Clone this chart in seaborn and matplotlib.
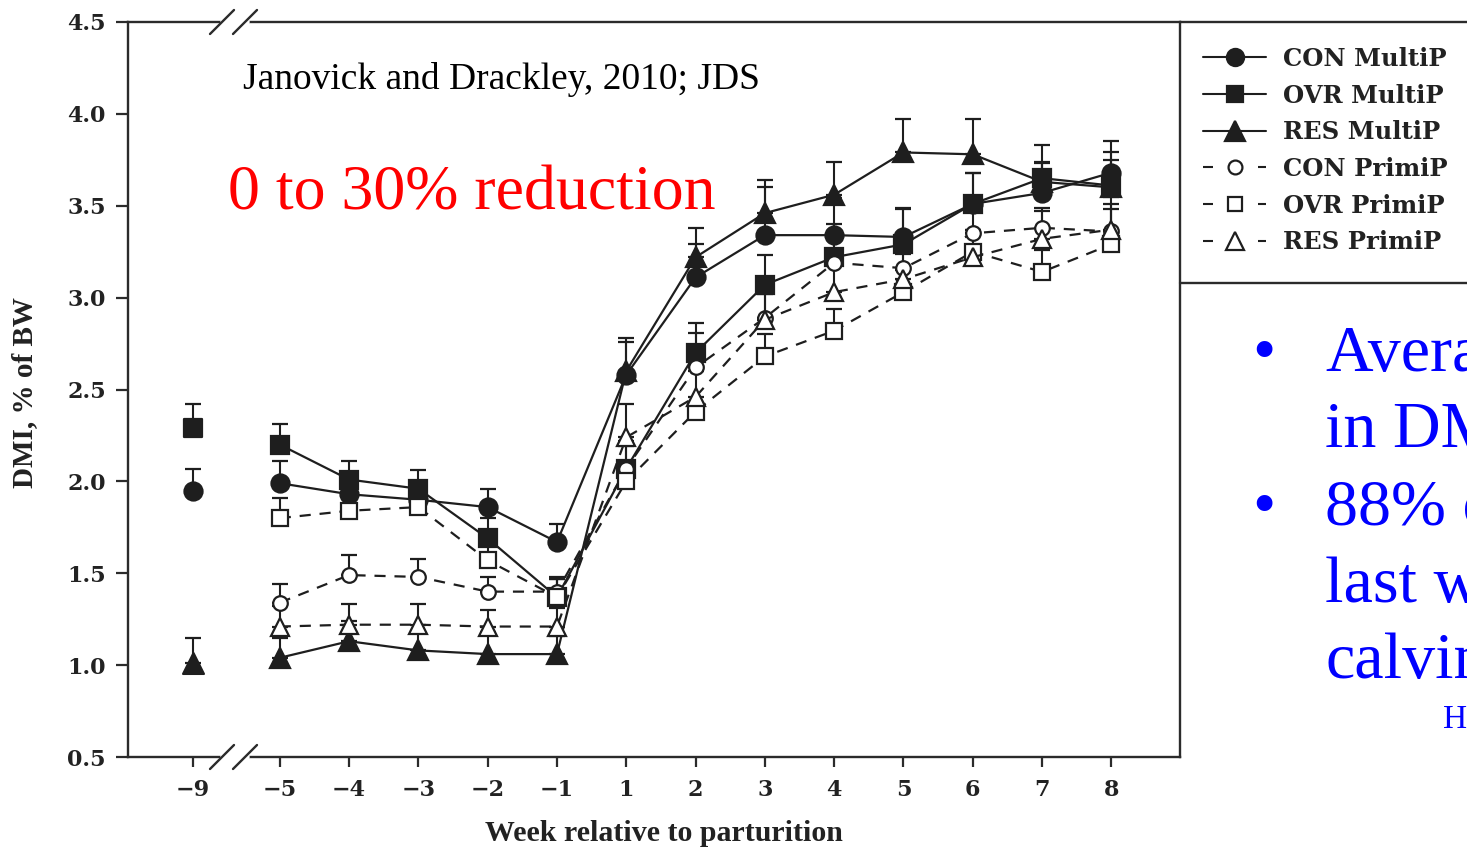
import numpy as np
import pandas as pd
import matplotlib
matplotlib.use("Agg")
import matplotlib.pyplot as plt
from matplotlib.lines import Line2D
import seaborn as sns

# ---------------- data ----------------
weeks = [-5, -4, -3, -2, -1, 1, 2, 3, 4, 5, 6, 7, 8]
pre_week = -9
week_tick_labels = ["\u22129", "\u22125", "\u22124", "\u22123", "\u22122", "\u22121",
                    "1", "2", "3", "4", "5", "6", "7", "8"]
y_ticks = [0.5, 1.0, 1.5, 2.0, 2.5, 3.0, 3.5, 4.0, 4.5]

series_names = ["CON MultiP", "OVR MultiP", "RES MultiP",
                "CON PrimiP", "OVR PrimiP", "RES PrimiP"]

con_multi = [1.99, 1.93, 1.90, 1.86, 1.67, 2.58, 3.11, 3.34, 3.34, 3.33, 3.51, 3.57, 3.68]
ovr_multi = [2.20, 2.01, 1.96, 1.69, 1.37, 2.07, 2.70, 3.07, 3.22, 3.29, 3.51, 3.65, 3.61]
res_multi = [1.04, 1.13, 1.08, 1.06, 1.06, 2.60, 3.22, 3.46, 3.56, 3.79, 3.78, 3.63, 3.60]
con_primi = [1.34, 1.49, 1.48, 1.40, 1.40, 2.07, 2.62, 2.89, 3.19, 3.16, 3.35, 3.38, 3.36]
ovr_primi = [1.80, 1.84, 1.86, 1.57, 1.37, 2.00, 2.38, 2.68, 2.82, 3.03, 3.25, 3.14, 3.29]
res_primi = [1.21, 1.22, 1.22, 1.21, 1.21, 2.24, 2.46, 2.88, 3.03, 3.10, 3.22, 3.32, 3.37]

con_multi_se = [0.12, 0.10, 0.10, 0.10, 0.10, 0.20, 0.18, 0.26, 0.20, 0.15, 0.17, 0.16, 0.17]
ovr_multi_se = [0.11, 0.10, 0.10, 0.11, 0.10, 0.15, 0.16, 0.16, 0.18, 0.20, 0.17, 0.18, 0.18]
res_multi_se = [0.11, 0.11, 0.10, 0.12, 0.10, 0.16, 0.16, 0.18, 0.18, 0.18, 0.19, 0.11, 0.15]
con_primi_se = [0.10, 0.11, 0.10, 0.08, 0.08, 0.12, 0.19, 0.15, 0.15, 0.15, 0.14, 0.11, 0.15]
ovr_primi_se = [0.11, 0.10, 0.10, 0.11, 0.10, 0.10, 0.04, 0.12, 0.12, 0.12, 0.12, 0.12, 0.19]
res_primi_se = [0.11, 0.11, 0.11, 0.09, 0.10, 0.18, 0.14, 0.14, 0.14, 0.14, 0.15, 0.15, 0.18]

# week -9 (MultiP only)
pre_multi = [1.95, 2.29, 1.01]
pre_multi_se = [0.12, 0.13, 0.14]

citation = "Janovick and Drackley, 2010; JDS"
headline = "0 to 30% reduction"
bullet_lines = ["Average", "in DMI", "88% of", "last week", "calving"]
source_note = "H"

# ---------------- style ----------------
sns.set_style("white")
plt.rcParams["font.family"] = ["DejaVu Serif", "DejaVu Sans"]

W, H = 1467, 849
def fx(px):
    return px / W
def fy(py):
    return 1 - py / H

INK = "#1e1e1e"
fig = plt.figure(figsize=(W / 100, H / 100), dpi=100)
fig.patch.set_facecolor("white")
ax = fig.add_axes([fx(128), fy(757), fx(1180) - fx(128), fy(22) - fy(757)])

pos = {w: i for i, w in enumerate(weeks)}
pre_pos = -1.255
xs = [pos[w] for w in weeks]

styles = [
    dict(marker="o", ms=13, mfc=INK, ls="-"),
    dict(marker="s", ms=12.5, mfc=INK, ls="-"),
    dict(marker="^", ms=15, mfc=INK, ls="-"),
    dict(marker="o", ms=10.5, mfc="white", ls=(0, (5, 4))),
    dict(marker="s", ms=11, mfc="white", ls=(0, (5, 4))),
    dict(marker="^", ms=13.5, mfc="white", ls=(0, (5, 4))),
]
values = [con_multi, ovr_multi, res_multi, con_primi, ovr_primi, res_primi]
ses = [con_multi_se, ovr_multi_se, res_multi_se, con_primi_se, ovr_primi_se, res_primi_se]

# error bars (upper only)
for v, s in zip(values, ses):
    ax.errorbar(xs, v, yerr=[np.zeros(len(s)), s], fmt="none", ecolor=INK,
                elinewidth=1.5, capsize=5.5, capthick=1.6, zorder=2)
ax.errorbar([pre_pos] * 3, pre_multi, yerr=[np.zeros(3), pre_multi_se], fmt="none",
            ecolor=INK, elinewidth=1.5, capsize=5.5, capthick=1.6, zorder=2)

for name, v, st in zip(series_names, values, styles):
    df = pd.DataFrame({"pos": xs, "dmi": v})
    sns.lineplot(data=df, x="pos", y="dmi", ax=ax, estimator=None, sort=False,
                 color=INK, linewidth=1.6, linestyle=st["ls"], marker=st["marker"],
                 markersize=st["ms"], markerfacecolor=st["mfc"], markeredgecolor=INK,
                 markeredgewidth=1.6, legend=False, zorder=3)

for i in range(3):
    st = styles[i]
    dfp = pd.DataFrame({"pos": [pre_pos], "dmi": [pre_multi[i]]})
    sns.scatterplot(data=dfp, x="pos", y="dmi", ax=ax, marker=st["marker"],
                    s=st["ms"] ** 2, color=INK, edgecolor=INK, linewidth=1.6,
                    legend=False, zorder=3)

ax.set_xlim(-2.19, 12.99)
ax.set_ylim(0.5, 4.5)
ax.set_xticks([pre_pos] + xs)
ax.set_xticklabels(week_tick_labels)
ax.set_yticks(y_ticks)
ax.set_yticklabels([f"{t:.1f}" for t in y_ticks])
for sp in ax.spines.values():
    sp.set_visible(True)
    sp.set_color("#2b2b2b")
    sp.set_linewidth(1.7)
ax.tick_params(axis="y", direction="out", length=9, width=1.6, color="#2b2b2b", pad=7,
               labelsize=16, left=True)
ax.tick_params(axis="x", direction="out", length=7, width=1.6, color="#2b2b2b", pad=9,
               labelsize=16, bottom=True)
for lab in ax.get_xticklabels() + ax.get_yticklabels():
    lab.set_fontweight("bold")
    lab.set_color("#222222")

ax.set_xlabel("Week relative to parturition", fontfamily="Liberation Serif",
              fontweight="bold", fontsize=21.5, color="#222222")
ax.set_ylabel("DMI, % of BW", fontfamily="Liberation Serif", fontweight="bold",
              fontsize=21, color="#222222")
ax.xaxis.set_label_coords((664 - 128) / (1180 - 128), -(820 - 757) / (757 - 22))
ax.yaxis.set_label_coords(-(128 - 38) / (1180 - 128), (757 - 392) / (757 - 22))

# axis break marks
for ypix in (22, 757):
    fig.add_artist(Line2D([fx(223), fx(247)], [fy(ypix), fy(ypix)], color="white",
                          lw=4, zorder=10))
    for x0 in (210, 233):
        fig.add_artist(Line2D([fx(x0), fx(x0 + 24)], [fy(ypix + 12), fy(ypix - 12)],
                              color="#2b2b2b", lw=1.7, zorder=11))

# legend box lines
fig.add_artist(Line2D([fx(1180), fx(1467)], [fy(22), fy(22)], color="#2b2b2b", lw=1.7))
fig.add_artist(Line2D([fx(1180), fx(1467)], [fy(283), fy(283)], color="#2b2b2b", lw=1.7))

handles = []
for st in styles:
    ls = "-" if st["ls"] == "-" else (0, (4.8, 21.6))
    handles.append(Line2D([], [], color=INK, lw=1.5, linestyle=ls, marker=st["marker"],
                          markersize=st["ms"] * 0.95, markerfacecolor=st["mfc"],
                          markeredgecolor=INK, markeredgewidth=1.6))
leg = fig.legend(handles, series_names, loc="upper left",
                 bbox_to_anchor=(fx(1203), fy(47)), frameon=False, borderpad=0,
                 borderaxespad=0, handlelength=2.6, handletextpad=0.7,
                 labelspacing=0.52, prop=dict(family="DejaVu Serif", weight="bold", size=17.5))
for t in leg.get_texts():
    t.set_color("#222222")

# annotation texts
fig.text(fx(243), fy(89), citation, fontfamily="Liberation Serif", fontsize=27,
         color="black", va="baseline", ha="left")
fig.text(fx(228), fy(210), headline, fontfamily="Liberation Serif", fontsize=46,
         color="#ff0000", va="baseline", ha="left")

tax = fig.add_axes([fx(1180), 0, 1 - fx(1180), fy(283)])
tax.set_axis_off()
def tx(px):
    return (px - 1180) / (W - 1180)
def ty(py):
    return (H - py) / (H - 283)
BLUE = "#0000ff"
baselines = [371, 447, 525, 602, 678]
for txt, b in zip(bullet_lines, baselines):
    tax.text(tx(1325), ty(b), txt, fontfamily="Liberation Serif", fontsize=47.5,
             color=BLUE, va="baseline", ha="left", clip_on=True)
for b in (371, 525):
    tax.text(tx(1252), ty(b), "\u2022", fontfamily="Liberation Serif", fontsize=47.5,
             color=BLUE, va="baseline", ha="left", clip_on=True)
tax.text(tx(1443), ty(728), source_note, fontfamily="Liberation Serif", fontsize=24,
         color=BLUE, va="baseline", ha="left", clip_on=True)

fig.savefig("out.png", dpi=100)
